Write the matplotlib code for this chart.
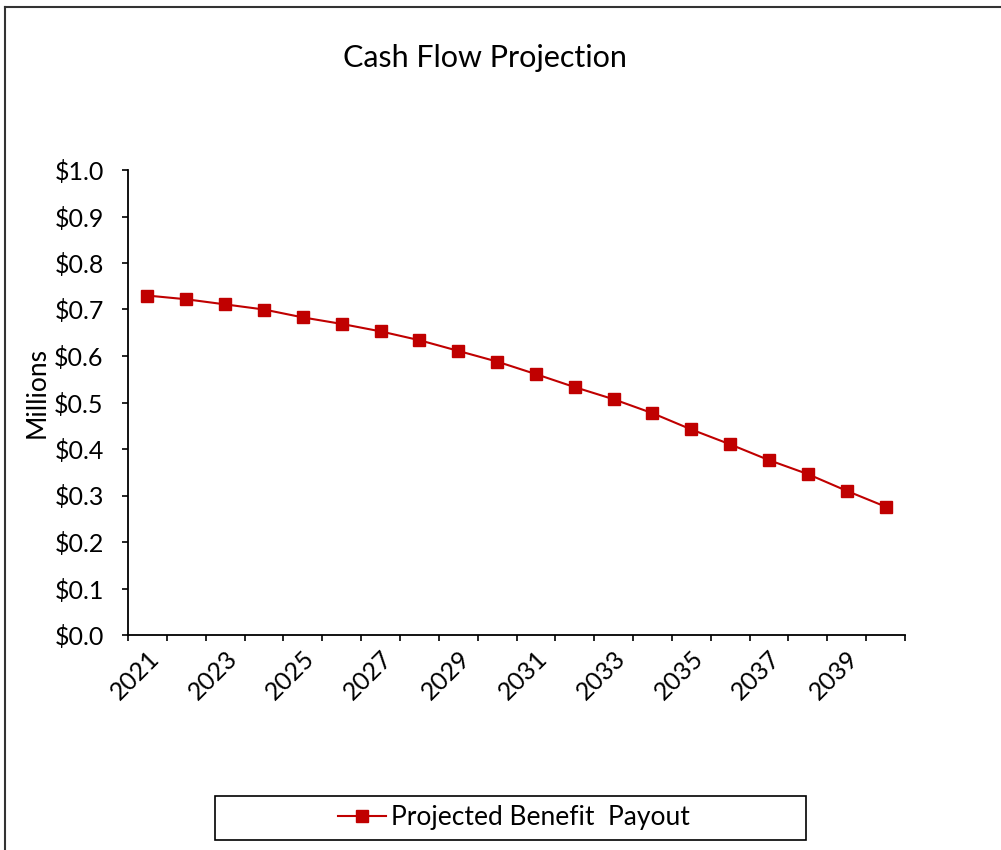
import numpy as np
import matplotlib as mpl
import matplotlib.pyplot as plt
import matplotlib.transforms as mtransforms
from matplotlib.patches import Rectangle
from matplotlib.lines import Line2D
from matplotlib.ticker import FuncFormatter, FixedLocator

mpl.use('Agg')

# Data
years = list(range(2021, 2041))
payout = [0.730, 0.722, 0.711, 0.700, 0.683, 0.669, 0.653, 0.634, 0.611, 0.588,
          0.561, 0.533, 0.507, 0.477, 0.442, 0.410, 0.376, 0.346, 0.310, 0.276]
year_labels = [str(y) for y in years]

plt.rcParams['font.family'] = ['Lato', 'DejaVu Sans']

W, H = 1001, 850
fig = plt.figure(figsize=(W / 100, H / 100), dpi=100)

# axes placed by pixel box of the plot area
left, right, top, bottom = 128, 905, 170, 635
ax = fig.add_axes([left / W, 1 - bottom / H, (right - left) / W, (bottom - top) / H])

red = '#C00000'
x = np.arange(len(years))
ax.plot(x, payout, color=red, lw=1.5, marker='s', markersize=8.5,
        markeredgecolor=red, markerfacecolor=red)

ax.set_xlim(-0.5, len(years) - 0.5)
ax.set_ylim(0, 1.0)
ax.set_yticks(np.arange(0, 1.01, 0.1))
ax.yaxis.set_major_formatter(FuncFormatter(lambda v, p: '$%.1f' % v))

# category boundaries get the tick marks, labels every other year
ax.xaxis.set_minor_locator(FixedLocator(np.arange(-0.5, len(years), 1.0)))
ax.set_xticks(x[::2])
ax.set_xticklabels(year_labels[::2], rotation=45, ha='right', va='center',
                   rotation_mode='anchor')
ax.tick_params(axis='x', which='major', length=0, pad=14, labelsize=18)
ax.tick_params(axis='x', which='minor', length=4.5, width=1.2, direction='out')
ax.tick_params(axis='y', length=4.5, width=1.2, direction='out', pad=13, labelsize=18)

# nudge the slanted year labels a little to the right, like Excel does
shift = mtransforms.ScaledTranslation(8 / 100, 0, fig.dpi_scale_trans)
for lab in ax.get_xticklabels():
    lab.set_transform(lab.get_transform() + shift)

for s in ['top', 'right']:
    ax.spines[s].set_visible(False)
for s in ['left', 'bottom']:
    ax.spines[s].set_linewidth(1.3)

fig.text(485 / W, 1 - 58 / H, 'Cash Flow Projection', ha='center', va='center', fontsize=22)
fig.text(37 / W, 1 - 392 / H, 'Millions', rotation=90, ha='center', va='center', fontsize=19)

# legend box
fig.patches.append(Rectangle((215 / W, 1 - 840 / H), 591 / W, 44 / H,
                             transform=fig.transFigure, fill=False,
                             edgecolor='black', lw=1.2))
handle = Line2D([], [], color=red, lw=1.5, marker='s', markersize=8.5)
fig.legend([handle], ['Projected Benefit  Payout'], loc='center',
           bbox_to_anchor=(514 / W, 1 - 818 / H), frameon=False, fontsize=19,
           handlelength=1.8, handletextpad=0.2)

# outer chart border (top and left visible)
fig.add_artist(Line2D([5 / W, 5 / W], [0, 1 - 7 / H], transform=fig.transFigure,
                      color='#333333', lw=1.5))
fig.add_artist(Line2D([5 / W, 1], [1 - 7 / H, 1 - 7 / H], transform=fig.transFigure,
                      color='#333333', lw=1.5))

fig.savefig('out.png', dpi=100)
